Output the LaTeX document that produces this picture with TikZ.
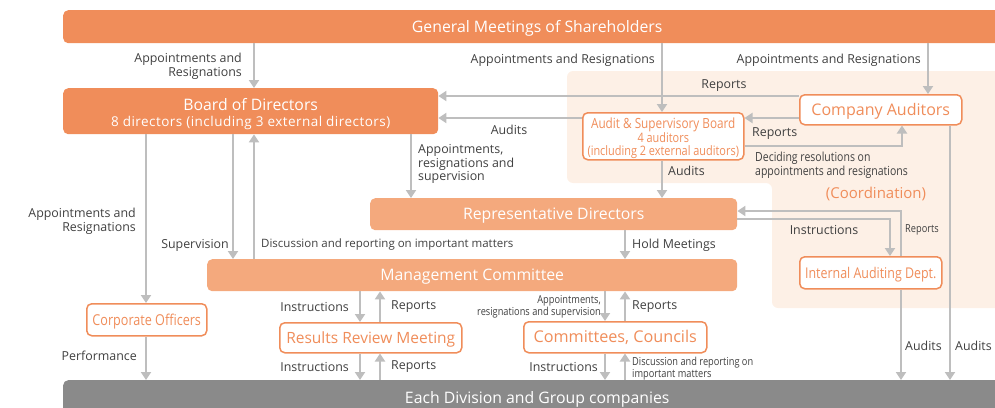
\documentclass[tikz,border=0pt]{standalone}
\usepackage{fontspec}
\setmainfont{Open Sans}
\newfontfamily\narrowfont[FakeStretch=0.84]{Open Sans}
\usepackage{tikz}
\usetikzlibrary{arrows.meta}
\definecolor{orangefonce}{RGB}{240,141,90}
\definecolor{orangeclair}{RGB}{244,169,125}
\definecolor{peche}{RGB}{253,240,230}
\definecolor{grisfleche}{RGB}{190,190,190}
\definecolor{grisbloc}{RGB}{138,138,138}
\definecolor{texte}{RGB}{64,64,64}

\begin{document}
\begin{tikzpicture}[x=1pt, y=-1pt, font=\fontsize{12.4}{13.8}\selectfont,
  bloc/.style={rounded corners=5pt, inner sep=0pt, align=center, anchor=north west},
  une/.style={text height=11pt, text depth=0pt},
  plein/.style={bloc, fill=orangefonce, text=white, font=\fontsize{15.8}{18}\selectfont},
  clair/.style={bloc, une, fill=orangeclair, text=white, font=\fontsize{15.8}{18}\selectfont},
  cadre/.style={bloc, une, draw=orangefonce, line width=1.5pt, fill=white, text=orangefonce, font=\fontsize{15.5}{17}\selectfont},
  fl/.style={draw=grisfleche, line width=2.8pt, -{Triangle[width=10pt,length=8pt]}},
  lbl/.style={text=texte, inner sep=0pt},
  petit/.style={lbl, font=\narrowfont\fontsize{11}{12}\selectfont}]
\clip (0,0) rectangle (995,407);
% zone de coordination
\fill[peche, rounded corners=6pt] (567,71) -- (1010,71) -- (1010,308) -- (772,308) -- (772,183) -- (567,183) -- cycle;

% blocs
\node[plein, une, minimum width=948pt, minimum height=33pt] (gm) at (63,10) {General Meetings of Shareholders};
\node[plein, minimum width=375pt, minimum height=46pt] (board) at (63,88) {\rule{0pt}{18pt}Board of Directors\\[-2pt]{\fontsize{13.5}{14}\selectfont\addfontfeature{LetterSpace=3.5}8 directors (including 3 external directors)}};
\node[cadre, text height=, text depth=, minimum width=161pt, minimum height=47pt, font=\narrowfont\fontsize{14}{13}\selectfont] (asb) at (582,112) {\rule{0pt}{15pt}Audit \& Supervisory Board\\{\fontsize{13}{12}\selectfont 4 auditors}\\{\fontsize{13}{12}\selectfont (including 2 external auditors)}};
\node[cadre, minimum width=162pt, minimum height=30pt, font=\fontsize{16}{18}\selectfont] (ca) at (799,94) {Company Auditors};
\node[clair, minimum width=367pt, minimum height=32pt] (rd) at (370,198) {Representative Directors};
\node[clair, minimum width=530pt, minimum height=32pt] (mc) at (207,259) {Management Committee};
\node[cadre, minimum width=120pt, minimum height=32pt, font=\narrowfont\fontsize{15}{17}\selectfont] (co) at (86,303) {Corporate Officers};
\node[cadre, minimum width=182pt, minimum height=30pt] (rrm) at (279,322) {Results Review Meeting};
\node[cadre, minimum width=183pt, minimum height=31pt, font=\fontsize{16.2}{18}\selectfont] (cc) at (523,321) {Committees, Councils};
\node[cadre, minimum width=142pt, minimum height=32pt, font=\narrowfont\fontsize{14.8}{17}\selectfont] (iad) at (799,256) {Internal Auditing Dept.};
\node[bloc, une, fill=grisbloc, text=white, minimum width=948pt, minimum height=36pt, font=\fontsize{15.8}{18}\selectfont] (div) at (63,380) {Each Division and Group companies};

% fleches
\draw[fl] (254,0 |- gm.south) -- (254,0 |- board.north);
\draw[fl] (662,0 |- gm.south) -- (662,0 |- asb.north);
\draw[fl] (928,0 |- gm.south) -- (928,0 |- ca.north);
\draw[fl] (ca.west |- 0,96) -- (board.east |- 0,96);
\draw[fl] (asb.west |- 0,118) -- (board.east |- 0,118);
\draw[fl] (ca.west |- 0,118) -- (asb.east |- 0,118);
\draw[fl] (asb.east |- 0,146) -| (902,0 |- ca.south);
\draw[fl] (662,0 |- asb.south) -- (662,0 |- rd.north);
\draw[fl] (411,0 |- board.south) -- (411,0 |- rd.north);
\draw[fl] (146,0 |- board.south) -- (146,0 |- co.north);
\draw[fl] (233,0 |- board.south) -- (233,0 |- mc.north);
\draw[fl] (254,0 |- mc.north) -- (254,0 |- board.south);
\draw[fl] (625,0 |- rd.south) -- (625,0 |- mc.north);
\draw[fl] (901,0 |- iad.north) |- (rd.east |- 0,211);
\draw[fl] (rd.east |- 0,219) -| (890,0 |- iad.north);
\draw[fl] (901,0 |- iad.south) -- (901,0 |- div.north);
\draw[fl] (950,0 |- ca.south) -- (950,0 |- div.north);
\draw[fl] (360,0 |- mc.south) -- (360,0 |- rrm.north);
\draw[fl] (380,0 |- rrm.north) -- (380,0 |- mc.south);
\draw[fl] (360,0 |- rrm.south) -- (360,0 |- div.north);
\draw[fl] (380,0 |- div.north) -- (380,0 |- rrm.south);
\draw[fl] (605,0 |- mc.south) -- (605,0 |- cc.north);
\draw[fl] (625,0 |- cc.north) -- (625,0 |- mc.south);
\draw[fl] (605,0 |- cc.south) -- (605,0 |- div.north);
\draw[fl] (625,0 |- div.north) -- (625,0 |- cc.south);
\draw[fl] (146,0 |- co.south) -- (146,0 |- div.north);

% libelles
\node[lbl, anchor=east, align=right] (l-gmb) at (242,66) {Appointments and\\Resignations};
\node[lbl, anchor=east] (l-gmasb) at (655,60) {Appointments and Resignations};
\node[lbl, anchor=east] (l-gmca) at (921,60) {Appointments and Resignations};
\node[lbl] (l-rep1) at (724,86) {Reports};
\node[lbl] (l-aud1) at (509,130) {Audits};
\node[lbl, anchor=west] (l-rep2) at (752,134) {Reports};
\node[petit, anchor=west, align=left, font=\narrowfont\fontsize{12.5}{13.5}\selectfont] (l-dec) at (755,165) {Deciding resolutions on\\appointments and resignations};
\node[lbl, anchor=west] (l-aud2) at (668,171) {Audits};
\node[lbl, anchor=west, align=left] (l-ars) at (418,164) {Appointments,\\resignations and\\supervision};
\node[lbl, text=orangefonce, font=\fontsize{15}{17}\selectfont] (l-coord) at (876,194) {(Coordination)};
\node[lbl, anchor=east, align=right] (l-bco) at (136,221) {Appointments and\\Resignations};
\node[lbl, anchor=east] (l-sup) at (229,245) {Supervision};
\node[lbl, anchor=west, font=\fontsize{11.5}{13.5}\selectfont] (l-disc) at (261,245) {Discussion and reporting on important matters};
\node[lbl, anchor=west] (l-hold) at (632,245) {Hold Meetings};
\node[lbl] (l-ins1) at (824,230) {Instructions};
\node[petit] (l-rep3) at (922,230) {Reports};
\node[lbl, anchor=east] (l-ins2) at (349,307) {Instructions};
\node[lbl, anchor=west] (l-rep4) at (391,307) {Reports};
\node[lbl, anchor=east] (l-ins3) at (349,367) {Instructions};
\node[lbl, anchor=west] (l-rep5) at (391,367) {Reports};
\node[petit, anchor=east, align=right] (l-ars2) at (601,307) {Appointments,\\resignations and supervision};
\node[lbl, anchor=west] (l-rep6) at (632,307) {Reports};
\node[lbl, anchor=east] (l-ins4) at (598,367) {Instructions};
\node[petit, anchor=west, align=left] (l-disc2) at (632,369) {Discussion and reporting on\\important matters};
\node[lbl, anchor=east] (l-perf) at (137,356) {Performance};
\node[lbl, anchor=west] (l-aud3) at (905,346) {Audits};
\node[lbl, anchor=west] (l-aud4) at (955,346) {Audits};
\end{tikzpicture}
\end{document}
